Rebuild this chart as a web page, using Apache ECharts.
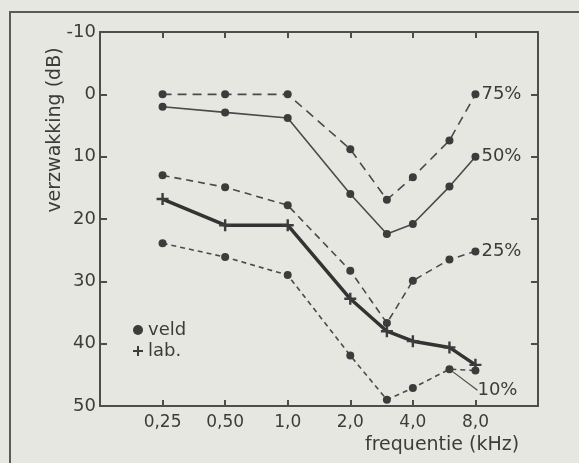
<!DOCTYPE html>
<html>
<head>
<meta charset="utf-8">
<script src="https://cdn.jsdelivr.net/npm/echarts@6/dist/echarts.min.js"></script>
<style>
html,body{margin:0;padding:0;background:#e7e7e2;}
#chart{width:579px;height:463px;}
</style>
</head>
<body>
<div id="chart"></div>
<script>
// frequenties (kHz)
var freqs = [0.25, 0.5, 1, 2, 3, 4, 6, 8];
// verzwakking (dB), veld
var veld75 = [0, 0, 0, 8.8, 16.9, 13.3, 7.4, 0];
var veld50 = [2.0, 2.9, 3.8, 16.0, 22.4, 20.8, 14.8, 10.0];
var veld25 = [13.0, 14.9, 17.8, 28.3, 36.7, 29.9, 26.5, 25.2];
var veld10 = [23.9, 26.1, 29.0, 41.9, 49.0, 47.1, 44.1, 44.3];
// lab.
var lab = [16.8, 21.0, 21.0, 32.8, 38.0, 39.6, 40.6, 43.4];

var xTickValues = [0.25, 0.5, 1, 2, 4, 8];
var xTickLabels = ['0,25', '0,50', '1,0', '2,0', '4,0', '8,0'];

var ink = '#3c3c3c';
var lineInk = '#4a4a4a';
var font = 'DejaVu Sans';
var plusPath = 'path://M4,0H6V4H10V6H6V10H4V6H0V4H4Z';

// label only on one point (index labelAt)
function pairs(vals, labelAt, text){
    return freqs.map(function(f, i){
        var item = {value: [f, vals[i]]};
        if (i === labelAt) {
            item.label = {show: true, formatter: text};
        }
        return item;
    });
}

function xLabel(v){
    for (var i = 0; i < xTickValues.length; i++) {
        if (Math.abs(xTickValues[i] - v) < 1e-6) return xTickLabels[i];
    }
    return '';
}

function veldSeries(vals, dash, pct, labelAt){
    return {
        name: 'veld',
        type: 'line',
        data: pairs(vals, labelAt, pct),
        symbol: 'circle',
        symbolSize: 8,
        itemStyle: {color: ink},
        lineStyle: {color: lineInk, width: 1.6, type: dash},
        label: {
            show: false,
            position: 'right',
            distance: 2,
            color: ink,
            fontFamily: font,
            fontSize: 18
        },
        animation: false
    };
}

var s10 = veldSeries(veld10, [5, 4], '10%', 6);
s10.labelLayout = {dx: 22, dy: 21};
s10.labelLine = {show: true, lineStyle: {color: lineInk, width: 1.2}};

var axisLine = {show: true, onZero: false, lineStyle: {color: '#4d4d4d', width: 2}};
var tickStyle = {color: '#4d4d4d', width: 2};

var option = {
    backgroundColor: '#e7e7e2',
    grid: {left: 100, top: 32, right: 41, bottom: 57},
    legend: {
        orient: 'vertical',
        left: 128,
        top: 316,
        itemGap: 3,
        itemWidth: 10,
        itemHeight: 10,
        textStyle: {color: ink, fontFamily: font, fontSize: 18},
        data: [
            {name: 'veld', icon: 'circle', itemStyle: {color: ink}},
            {name: 'lab.', icon: plusPath, itemStyle: {color: ink}}
        ]
    },
    title: {
        text: 'frequentie (kHz)',
        left: 365,
        top: 436,
        padding: 0,
        textStyle: {color: ink, fontFamily: font, fontSize: 19, fontWeight: 'normal'}
    },
    graphic: [
        {
            type: 'rect',
            shape: {x: 10, y: 12, width: 620, height: 520},
            style: {fill: null, stroke: '#5a5a5a', lineWidth: 2},
            silent: true
        },
        {
            type: 'text',
            x: 55,
            y: 130,
            rotation: Math.PI / 2,
            style: {
                text: 'verzwakking (dB)',
                align: 'center',
                verticalAlign: 'middle',
                fill: ink,
                font: '19px "DejaVu Sans"'
            }
        }
    ],
    xAxis: [
        {
            type: 'log',
            logBase: 2,
            min: 0.125,
            max: 16,
            axisLine: axisLine,
            axisTick: {inside: true, length: 6, lineStyle: tickStyle},
            axisLabel: {color: ink, fontFamily: font, fontSize: 17, margin: 8, formatter: xLabel},
            splitLine: {show: false},
            minorTick: {show: false}
        },
        {
            type: 'log',
            logBase: 2,
            min: 0.125,
            max: 16,
            position: 'top',
            axisLine: axisLine,
            axisTick: {inside: true, length: 6, lineStyle: tickStyle},
            axisLabel: {show: false},
            splitLine: {show: false}
        }
    ],
    yAxis: [
        {
            type: 'value',
            inverse: true,
            min: -10,
            max: 50,
            interval: 10,
            axisLine: axisLine,
            axisTick: {show: true, inside: true, length: 7, lineStyle: tickStyle},
            axisLabel: {color: ink, fontFamily: font, fontSize: 18, margin: 4},
            splitLine: {show: false}
        },
        {
            type: 'value',
            inverse: true,
            min: -10,
            max: 50,
            interval: 10,
            position: 'right',
            axisLine: axisLine,
            axisTick: {show: true, inside: true, length: 7, lineStyle: tickStyle},
            axisLabel: {show: false},
            splitLine: {show: false}
        }
    ],
    series: [
        veldSeries(veld75, [9, 6], '75%', 7),
        veldSeries(veld50, 'solid', '50%', 7),
        veldSeries(veld25, [7, 5], '25%', 7),
        s10,
        {
            name: 'lab.',
            type: 'line',
            data: pairs(lab, -1, ''),
            symbol: plusPath,
            symbolSize: 12,
            itemStyle: {color: ink},
            lineStyle: {color: '#333', width: 3.5},
            animation: false
        }
    ]
};

var chart = echarts.init(document.getElementById('chart'));
chart.setOption(option);
</script>
</body>
</html>
